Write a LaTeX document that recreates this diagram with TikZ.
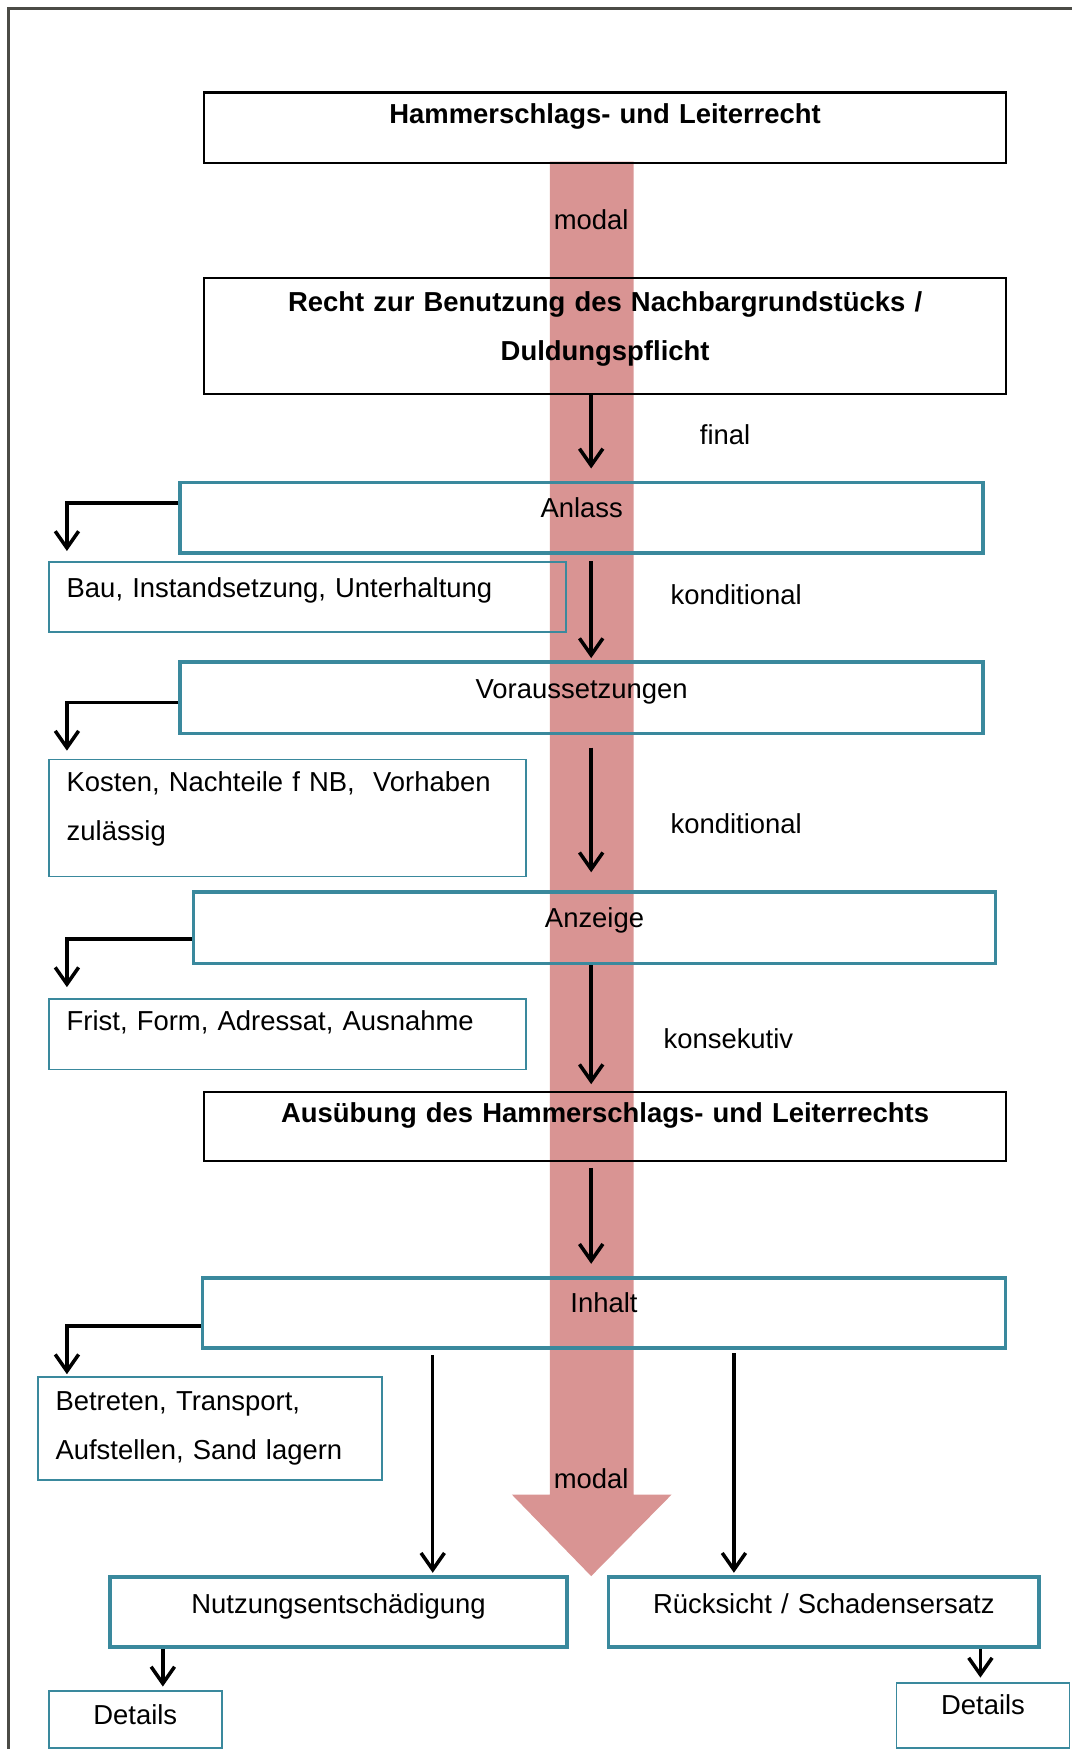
\documentclass[tikz,border=0pt]{standalone}
\usepackage{fontspec}
\setmainfont{Liberation Sans}
\usetikzlibrary{positioning,calc,arrows.meta}
\definecolor{bandred}{RGB}{217,148,147}
\definecolor{boxteal}{RGB}{58,137,157}
\definecolor{framegray}{RGB}{75,75,70}

\tikzset{
  arr/.style={-{Straight Barb[length=3mm,width=4.2mm]}, line width=1.8pt},
  blackbox/.style={draw, line width=1.2pt, anchor=north west, inner sep=0pt, align=center, font=\fontsize{14}{25}\selectfont\bfseries},
  tealbox/.style={draw=boxteal, line width=1.8pt, anchor=north west, inner sep=0pt, align=center},
  notebox/.style={draw=boxteal, line width=0.9pt, anchor=north west, inner xsep=0.32cm, inner ysep=0pt, align=left},
  relname/.style={inner sep=0pt},
}

\begin{document}
\begin{tikzpicture}[x=0.02cm, y=-0.02cm, font=\fontsize{14}{25}\selectfont]
        \useasboundingbox (0,0) rectangle (961,1568);
        % Frame and band
        \draw[framegray, line width=1.5pt] (8,1580) -- (8,8) -- (975,8);
        \fill[bandred] (493,145) -- (568,145) -- (568,1340) -- (602,1340) -- (530,1413) -- (459,1340) -- (493,1340) -- cycle;
        \coordinate (axis) at (530,0);

        % Main chain
        \node[blackbox, text width=14.38cm, text height=0.56cm, text depth=0.70cm] (hammer) at (182,82) {Hammerschlags- und Leiterrecht};
        \node[blackbox, text width=14.38cm, text height=0.60cm, text depth=1.48cm] (recht) at (182,248) {Recht zur Benutzung des Nachbargrundstücks /\\Duldungspflicht};
        \node[tealbox, text width=14.4cm, text height=0.62cm, text depth=0.64cm] (anlass) at (160,431) {Anlass};
        \node[tealbox, text width=14.4cm, text height=0.66cm, text depth=0.62cm] (voraus) at (160,592) {Voraussetzungen};
        \node[tealbox, text width=14.38cm, text height=0.64cm, text depth=0.64cm] (anzeige) at (172,798) {Anzeige};
        \node[blackbox, text width=14.38cm, text height=0.54cm, text depth=0.70cm] (ausueb) at (182,978) {Ausübung des Hammerschlags- und Leiterrechts};
        \node[tealbox, text width=14.4cm, text height=0.62cm, text depth=0.64cm] (inhalt) at (180,1144) {Inhalt};
        \node[tealbox, text width=8.2cm, text height=0.66cm, text depth=0.60cm] (nutz) at (97,1412) {Nutzungsentschädigung};
        \node[tealbox, text width=7.72cm, text height=0.66cm, text depth=0.60cm] (rueck) at (544,1412) {Rücksicht / Schadensersatz};

        % Side boxes
        \node[notebox, text width=8.64cm, text height=0.64cm, text depth=0.62cm] (bau) at (43,503) {Bau, Instandsetzung, Unterhaltung};
        \node[notebox, text width=7.92cm, text height=0.58cm, text depth=1.52cm] (kosten) at (43,680) {Kosten, Nachteile f NB,~ Vorhaben\\zulässig};
        \node[notebox, text width=7.92cm, text height=0.56cm, text depth=0.70cm] (frist) at (43,895) {Frist, Form, Adressat, Ausnahme};
        \node[notebox, text width=5.54cm, text height=0.60cm, text depth=1.24cm] (betr) at (33,1234) {Betreten, Transport,\\Aufstellen, Sand lagern};
        \node[notebox, inner xsep=0pt, text width=3.1cm, align=center, text height=0.60cm, text depth=0.42cm] (detl) at (43,1515) {Details};
        \node[notebox, inner xsep=0pt, text width=3.1cm, align=center, text height=0.56cm, text depth=0.60cm] (detr) at (803,1508) {Details};

        % Relation labels
        \node[relname] (modala) at (530,197) {modal};
        \node[relname] (final) at (650,390) {final};
        \node[relname] (kondia) at (660,533) {konditional};
        \node[relname] (kondib) at (660,738) {konditional};
        \node[relname] (konsek) at (653,931) {konsekutiv};
        \node[relname] (modalb) at (530,1326) {modal};

        % Arrows down the band
        \draw[arr, shorten >=0.22cm] (recht.south -| axis) -- (anlass.north -| axis);
        \draw[arr, shorten <=0.12cm, shorten >=0.04cm] (anlass.south -| axis) -- (voraus.north -| axis);
        \draw[arr, shorten <=0.22cm, shorten >=0.32cm] (voraus.south -| axis) -- (anzeige.north -| axis);
        \draw[arr, shorten >=0.12cm] (anzeige.south -| axis) -- (ausueb.north -| axis);
        \draw[arr, shorten <=0.10cm, shorten >=0.22cm] (ausueb.south -| axis) -- (inhalt.north -| axis);

        % Elbow arrows to the side boxes
        \draw[arr, shorten >=0.18cm] ([yshift=-0.40cm]anlass.north west) -| ([xshift=0.34cm]bau.north west);
        \draw[arr, shorten >=0.14cm] ([yshift=-0.76cm]voraus.north west) -| ([xshift=0.34cm]kosten.north west);
        \draw[arr, shorten >=0.20cm] ([yshift=-0.88cm]anzeige.north west) -| ([xshift=0.34cm]frist.north west);
        \draw[arr, shorten >=0.04cm] ([yshift=-0.90cm]inhalt.north west) -| ([xshift=0.54cm]betr.north west);

        % Inhalt branches
        \coordinate (nutzin) at ([xshift=5.82cm]nutz.north west);
        \coordinate (rueckin) at ([xshift=2.28cm]rueck.north west);
        \draw[arr, shorten <=0.10cm, shorten >=0.04cm] (nutzin |- inhalt.south) -- (nutzin);
        \draw[arr, shorten <=0.06cm, shorten >=0.04cm] (rueckin |- inhalt.south) -- (rueckin);

        % Details
        \coordinate (nutzdet) at ([xshift=0.98cm]nutz.south west);
        \coordinate (rueckdet) at ([xshift=6.7cm]rueck.south west);
        \draw[arr, shorten >=0.06cm] (nutzdet) -- (nutzdet |- detl.north);
        \draw[arr, shorten >=0.08cm] (rueckdet) -- (rueckdet |- detr.north);
    \end{tikzpicture}
\end{document}
